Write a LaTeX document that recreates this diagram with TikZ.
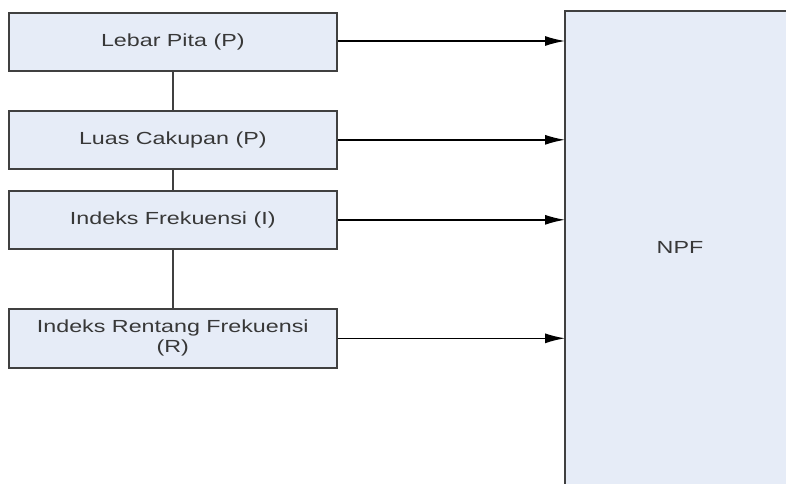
\documentclass[tikz,border=0pt]{standalone}
\usepackage{fontspec}
\setmainfont{Liberation Sans}
\usetikzlibrary{arrows.meta}
\definecolor{boxfill}{HTML}{E6ECF7}
\definecolor{boxline}{HTML}{404040}
\definecolor{txt}{HTML}{383838}
\newcommand{\wtxt}[1]{\scalebox{1.33}[1]{#1}}
\begin{document}
\begin{tikzpicture}[x=1pt,y=1pt,
  blockbox/.style={draw=boxline, fill=boxfill, line width=1.6pt, minimum width=328pt,
    minimum height=58pt, inner sep=0pt, anchor=north west, text=txt,
    font=\fontsize{17.5}{21}\selectfont, align=center},
  link/.style={draw=boxline, line width=1.4pt},
  feed/.style={draw=black, line width=1.4pt, -{Latex[length=20pt,width=10pt]}}]
  \useasboundingbox (0,0) rectangle (786,-483);
  % output block, running past the right and bottom edges of the page
  \node[blockbox, draw=none, minimum width=221pt, minimum height=472pt] (npf) at (565,-11) {};
  \draw[boxline, line width=1.6pt] (npf.south west) -- (npf.north west) -- (npf.north east);
  \node[text=txt, font=\fontsize{17.5}{21}\selectfont] (npflabel) at (680,-247) {\wtxt{NPF}};
  % input blocks
  \node[blockbox] (lp) at (8,-12) {\wtxt{Lebar Pita (P)}};
  \node[blockbox] (lc) at (8,-110) {\wtxt{Luas Cakupan (P)}};
  \node[blockbox] (if) at (8,-190) {\wtxt{Indeks Frekuensi (I)}};
  \node[blockbox, minimum height=59pt] (irf) at (8,-308) {\wtxt{Indeks Rentang Frekuensi}\\[-1pt]\wtxt{(R)}};
  % vertical links between inputs
  \draw[link] (lp.south) -- (lc.north);
  \draw[link] (lc.south) -- (if.north);
  \draw[link] (if.south) -- (irf.north);
  % feeds into the output block
  \draw[feed] (lp.east |- 0,-41) -- (npf.west |- 0,-41);
  \draw[feed] (lc.east) -- (npf.west |- lc.east);
  \draw[feed] (if.east) -- (npf.west |- if.east);
  \draw[feed] (irf.east) -- (npf.west |- irf.east);
\end{tikzpicture}
\end{document}
